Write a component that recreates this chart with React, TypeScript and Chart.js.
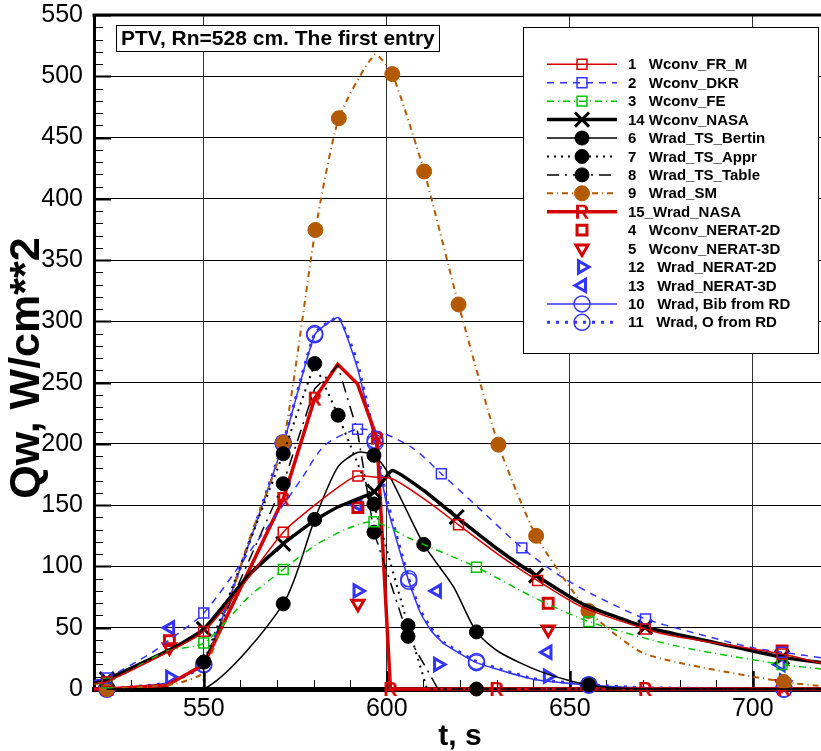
import React, { useEffect, useRef } from 'react';
import { Chart, registerables } from 'chart.js';
import { drawPoint } from 'chart.js/helpers';

Chart.register(...registerables);

const FONT = '"Liberation Sans", Arial, Helvetica, sans-serif';

// ---------- axes ----------
const X_MIN = 520;
const X_MAX = 720;
const Y_MIN = 0;
const Y_MAX = 550;
const X_TICKS = [550, 600, 650, 700];
const Y_TICKS = [0, 50, 100, 150, 200, 250, 300, 350, 400, 450, 500, 550];
const X_TITLE = 't, s';
const Y_TITLE = 'Qw, W/cm**2';
const PLOT_TITLE = 'PTV, Rn=528 cm. The first entry';

// ---------- data (t, s ; Qw, W/cm^2 ; indices of plotted symbols) ----------
const T_FRM = [520, 523.5, 540, 550, 562, 571.7, 580.3, 589.3, 592.1, 596.4, 601.5, 610.1, 619.6, 630.8, 641.2, 653.4, 670.6, 678.7, 708, 720];
const Q_FRM = [4, 6, 30, 47, 90, 128, 150, 170, 173.8, 173, 171.6, 155.3, 134, 109, 88.5, 66.8, 49, 43, 28.6, 20];
const M_FRM = [1, 3, 5, 8, 12, 14, 16, 18];

const T_DKR = [520, 523.5, 536, 541, 550, 562, 571.7, 576.7, 583, 592, 599.3, 607.4, 614.9, 625, 636.9, 647, 657, 670.7, 685, 699.4, 708, 720];
const Q_DKR = [7, 9, 30, 41, 62, 110, 150, 171.6, 198.8, 212, 208.4, 196, 175.7, 148, 115.2, 93, 76, 57.2, 45, 34, 30, 25];
const M_DKR = [1, 4, 9, 12, 14, 17, 20];

const T_FE = [520, 523.5, 540, 550, 562.2, 571.7, 580.3, 589.3, 596.5, 606.5, 624.5, 640, 655.2, 678.7, 708, 720];
const Q_FE = [4, 5, 31, 37.5, 75, 97.5, 117, 131, 136.5, 122.6, 99.4, 75, 55, 35.4, 20, 16];
const M_FE = [1, 3, 5, 8, 10, 12, 14];

const T_CNASA = [520, 523.5, 541.2, 550, 562.2, 571.7, 580.3, 586.6, 596.6, 601.5, 610.1, 619.1, 630.8, 640.8, 653.4, 670.6, 678.7, 708, 720];
const Q_CNASA = [6, 8, 32.7, 49, 92.6, 118.5, 137.6, 148.5, 161, 178.4, 162, 140.3, 113, 92.6, 69.5, 50.4, 45, 26, 21];
const M_CNASA = [1, 3, 5, 8, 11, 13, 15, 17];

const T_BERTIN = [523.5, 550, 571.7, 580.3, 586.6, 592, 596.5, 600.2, 610.1, 618.2, 624.5, 630.8, 642.6, 655.2, 670, 720];
const Q_BERTIN = [0, 0, 69.5, 138.4, 181, 193, 190.7, 177, 118, 83.5, 46.6, 30, 13.6, 3.3, 0, 0];
const M_BERTIN = [2, 3, 6, 8, 10, 13];

const T_APPR = [523.5, 550, 550, 571.7, 580.3, 586.7, 596.5, 605.8, 611, 720];
const Q_APPR = [0, 0, 22, 192, 265.6, 223.4, 151, 51.7, 0, 0];
const M_APPR = [2, 3, 4, 5, 6, 7];

const T_TABLE = [523.5, 550, 550, 571.7, 580.3, 586.6, 592, 596.5, 605.8, 614, 624.5, 720];
const Q_TABLE = [0, 0, 22, 167.5, 245, 264, 210, 128, 43, 0, 0, 0];
const M_TABLE = [2, 3, 7, 8, 10];

const T_SM = [523.5, 541.7, 550, 562.2, 571.7, 580.5, 586.9, 596.7, 601.5, 610.2, 619.6, 630.5, 640.8, 655.1, 670.6, 708.5, 720];
const Q_SM = [0, 4, 14, 120, 201, 374.6, 465.8, 517.6, 501.8, 422.3, 313.8, 199.4, 125, 63.7, 28.6, 5.7, 2];
const M_SM = [0, 4, 5, 6, 8, 9, 10, 11, 12, 13, 15];

const T_RNASA = [520, 523.5, 540, 550, 571.7, 580.3, 586.6, 592, 597.3, 601, 630, 670.6, 708.5, 720];
const Q_RNASA = [0, 0, 3, 20, 155, 237, 265, 249, 205, 0, 0, 0, 0, 0];
const M_RNASA = [1, 4, 5, 8, 9, 10, 11, 12];

const T_CN2D = [540.6, 592.1, 644.1, 708];
const Q_CN2D = [39.5, 148, 70, 31];

const T_CN3D = [540.6, 592.1, 644.1, 708];
const Q_CN3D = [34, 69.5, 48.5, 4];

const T_RN2D = [540.8, 592, 614, 644, 708.5];
const Q_RN2D = [9.5, 80, 20, 10.5, 6.5];

const T_RN3D = [540.8, 592, 613.7, 643.9, 707.6];
const Q_RN3D = [50, 150.5, 80, 30, 20];

const T_BIB = [520, 523.5, 540, 550, 571.7, 580.3, 586.8, 592, 596.8, 600, 606, 609.2, 612, 615.6, 624.5, 640, 655.2, 670, 708.5, 720];
const Q_BIB = [0, 0, 5, 20, 200, 289, 303, 261.5, 201, 150, 88, 62, 48, 37, 21.5, 8, 3.3, 1, 0, 0];
const M_BIB = [1, 3, 4, 5, 8, 10, 14, 16, 18];

const T_ORD = [520, 523.5, 540, 550, 571.7, 580.3, 586.8, 592, 596.8, 600, 606, 609.2, 612, 615.6, 624.5, 640, 655.2, 670, 708.5, 720];
const Q_ORD = [0, 0, 5, 20, 201, 290, 303, 266, 203, 155, 90, 64, 50, 38, 22.5, 8.5, 3.5, 1, 0, 0];
const M_ORD = [1, 3, 4, 5, 8, 10, 14, 16, 18];

const LABELS = [
  '1   Wconv_FR_M',
  '2   Wconv_DKR',
  '3   Wconv_FE',
  '14 Wconv_NASA',
  '6   Wrad_TS_Bertin',
  '7   Wrad_TS_Appr',
  '8   Wrad_TS_Table',
  '9   Wrad_SM',
  '15_Wrad_NASA',
  '4   Wconv_NERAT-2D',
  '5   Wconv_NERAT-3D',
  '12   Wrad_NERAT-2D',
  '13   Wrad_NERAT-3D',
  '10   Wrad, Bib from RD',
  '11   Wrad, O from RD',
];

// ---------- colours ----------
const RED = '#d40000';
const BLUE = '#3434ff';
const GREEN = '#00c400';
const BROWN = '#b35900';
const BLACK = '#000000';
const NONE = 'rgba(0,0,0,0)';

function makeRGlyph(): HTMLCanvasElement {
  const c = document.createElement('canvas');
  c.width = 16;
  c.height = 20;
  const g = c.getContext('2d')!;
  g.fillStyle = RED;
  g.font = 'bold 20px ' + FONT;
  g.textAlign = 'center';
  g.textBaseline = 'middle';
  g.fillText('R', 8, 11);
  return c;
}

type Series = {
  label: string;
  t: number[];
  q: number[];
  m: number[] | null; // null -> every point
  color: string;
  width: number;
  dash: number[];
  line: boolean;
  pstyle: any;
  r: number;
  pw: number;
  fill: string;
  rot: number;
  tension: number;
};

function buildSeries(): Series[] {
  const R = makeRGlyph();
  return [
    { label: LABELS[0], t: T_FRM, q: Q_FRM, m: M_FRM, color: RED, width: 1.5, dash: [], line: true, pstyle: 'rect', r: 7, pw: 1.5, fill: NONE, rot: 0, tension: 0.25 },
    { label: LABELS[1], t: T_DKR, q: Q_DKR, m: M_DKR, color: BLUE, width: 1.5, dash: [7, 6], line: true, pstyle: 'rect', r: 7, pw: 1.5, fill: NONE, rot: 0, tension: 0.25 },
    { label: LABELS[2], t: T_FE, q: Q_FE, m: M_FE, color: GREEN, width: 1.5, dash: [7, 4, 1, 4], line: true, pstyle: 'rect', r: 7, pw: 1.5, fill: NONE, rot: 0, tension: 0.25 },
    { label: LABELS[3], t: T_CNASA, q: Q_CNASA, m: M_CNASA, color: BLACK, width: 3.5, dash: [], line: true, pstyle: 'crossRot', r: 10, pw: 3, fill: NONE, rot: 0, tension: 0.15 },
    { label: LABELS[4], t: T_BERTIN, q: Q_BERTIN, m: M_BERTIN, color: BLACK, width: 1.5, dash: [], line: true, pstyle: 'circle', r: 7, pw: 1, fill: BLACK, rot: 0, tension: 0.25 },
    { label: LABELS[5], t: T_APPR, q: Q_APPR, m: M_APPR, color: BLACK, width: 2, dash: [2, 5], line: true, pstyle: 'circle', r: 7, pw: 1, fill: BLACK, rot: 0, tension: 0 },
    { label: LABELS[6], t: T_TABLE, q: Q_TABLE, m: M_TABLE, color: BLACK, width: 1.5, dash: [12, 6, 2, 6], line: true, pstyle: 'circle', r: 7, pw: 1, fill: BLACK, rot: 0, tension: 0 },
    { label: LABELS[7], t: T_SM, q: Q_SM, m: M_SM, color: BROWN, width: 2, dash: [6, 4, 1, 4], line: true, pstyle: 'circle', r: 7.5, pw: 1, fill: BROWN, rot: 0, tension: 0.2 },
    { label: LABELS[8], t: T_RNASA, q: Q_RNASA, m: M_RNASA, color: RED, width: 3.5, dash: [], line: true, pstyle: R, r: 8, pw: 1, fill: RED, rot: 0, tension: 0 },
    { label: LABELS[9], t: T_CN2D, q: Q_CN2D, m: null, color: RED, width: 0, dash: [], line: false, pstyle: 'rect', r: 7, pw: 3, fill: NONE, rot: 0, tension: 0 },
    { label: LABELS[10], t: T_CN3D, q: Q_CN3D, m: null, color: RED, width: 0, dash: [], line: false, pstyle: 'triangle', r: 7, pw: 3, fill: NONE, rot: 180, tension: 0 },
    { label: LABELS[11], t: T_RN2D, q: Q_RN2D, m: null, color: BLUE, width: 0, dash: [], line: false, pstyle: 'triangle', r: 7, pw: 3, fill: NONE, rot: 90, tension: 0 },
    { label: LABELS[12], t: T_RN3D, q: Q_RN3D, m: null, color: BLUE, width: 0, dash: [], line: false, pstyle: 'triangle', r: 7, pw: 3, fill: NONE, rot: 270, tension: 0 },
    { label: LABELS[13], t: T_BIB, q: Q_BIB, m: M_BIB, color: BLUE, width: 1.5, dash: [], line: true, pstyle: 'circle', r: 8, pw: 1.5, fill: NONE, rot: 0, tension: 0.15 },
    { label: LABELS[14], t: T_ORD, q: Q_ORD, m: M_ORD, color: BLUE, width: 3, dash: [3, 6], line: true, pstyle: 'circle', r: 8, pw: 1.5, fill: NONE, rot: 0, tension: 0.15 },
  ];
}

export default function App() {
  const ref = useRef<HTMLCanvasElement | null>(null);

  useEffect(() => {
    const canvas = ref.current;
    if (!canvas) return;
    const series = buildSeries();

    const datasets = series.map((s) => ({
      label: s.label,
      data: s.t.map((x, i) => ({ x, y: s.q[i] })),
      showLine: s.line,
      clip: false,
      borderColor: s.color,
      borderWidth: s.width,
      borderDash: s.dash,
      backgroundColor: s.fill,
      tension: s.tension,
      pointStyle: s.pstyle,
      pointRadius: (ctx: any) => (s.m === null || s.m.includes(ctx.dataIndex) ? s.r : 0),
      pointHoverRadius: 0,
      pointBorderWidth: s.pw,
      pointBorderColor: s.color,
      pointBackgroundColor: s.fill,
      pointRotation: s.rot,
    }));

    const decor = {
      id: 'decor',
      beforeDatasetsDraw(chart: any) {
        const ctx = chart.ctx;
        const a = chart.chartArea;
        const xs = chart.scales.x;
        const ys = chart.scales.y;
        ctx.save();
        ctx.strokeStyle = BLACK;
        // y ticks (inward)
        for (let v = Y_MIN; v <= Y_MAX; v += 10) {
          const major = v % 50 === 0;
          const y = Math.round(ys.getPixelForValue(v)) + 0.5;
          ctx.lineWidth = major ? 2 : 1;
          ctx.beginPath();
          ctx.moveTo(a.left, y);
          ctx.lineTo(a.left + (major ? 17 : 9), y);
          ctx.stroke();
        }
        // x ticks (inward)
        for (let v = X_MIN; v <= X_MAX; v += 10) {
          const major = v % 50 === 0;
          const x = Math.round(xs.getPixelForValue(v)) + 0.5;
          ctx.lineWidth = major ? 2.5 : 1;
          ctx.beginPath();
          ctx.moveTo(x, a.bottom);
          ctx.lineTo(x, a.bottom - (major ? 18 : 9));
          ctx.stroke();
        }
        // top frame
        ctx.lineWidth = 3;
        ctx.beginPath();
        ctx.moveTo(a.left - 1.5, a.top);
        ctx.lineTo(a.right, a.top);
        ctx.stroke();
        ctx.restore();
      },
      afterDraw(chart: any) {
        const ctx = chart.ctx;
        const a = chart.chartArea;
        ctx.save();
        // axis titles
        ctx.fillStyle = BLACK;
        ctx.font = 'bold 30px ' + FONT;
        ctx.textAlign = 'center';
        ctx.textBaseline = 'alphabetic';
        ctx.fillText(X_TITLE, (a.left + a.right) / 2, 745);
        ctx.save();
        ctx.translate(39, 368);
        ctx.rotate(-Math.PI / 2);
        ctx.font = 'bold 43px ' + FONT;
        ctx.fillText(Y_TITLE, 0, 0);
        ctx.restore();

        // title box
        ctx.fillStyle = '#ffffff';
        ctx.fillRect(116, 25, 323, 26);
        ctx.strokeStyle = BLACK;
        ctx.lineWidth = 1;
        ctx.strokeRect(116.5, 25.5, 323, 26);
        ctx.fillStyle = BLACK;
        ctx.font = 'bold 21px ' + FONT;
        ctx.textAlign = 'left';
        ctx.fillText(PLOT_TITLE, 121, 45);

        // legend box
        ctx.fillStyle = '#ffffff';
        ctx.fillRect(523, 27, 295, 326);
        ctx.strokeRect(523.5, 27.5, 295, 326);
        series.forEach((s, i) => {
          const y = 64.3 + i * 18.43;
          if (s.line) {
            ctx.save();
            ctx.strokeStyle = s.color;
            ctx.lineWidth = s.width;
            ctx.setLineDash(s.dash);
            ctx.beginPath();
            ctx.moveTo(547, y);
            ctx.lineTo(617, y);
            ctx.stroke();
            ctx.restore();
          }
          ctx.save();
          ctx.setLineDash([]);
          ctx.strokeStyle = s.color;
          ctx.fillStyle = s.fill;
          ctx.lineWidth = s.pw;
          drawPoint(ctx, { pointStyle: s.pstyle, radius: s.r, rotation: s.rot, borderWidth: s.pw } as any, 582, y);
          ctx.restore();
          ctx.fillStyle = BLACK;
          ctx.font = 'bold 15px ' + FONT;
          ctx.textAlign = 'left';
          ctx.textBaseline = 'middle';
          ctx.fillText(s.label, 628, y + 1);
        });
        ctx.restore();
      },
    };

    const chart = new Chart(canvas, {
      type: 'scatter',
      data: { datasets: datasets as any },
      options: {
        animation: false,
        responsive: false,
        devicePixelRatio: 1,
        events: [],
        layout: { padding: { top: 15, right: 3, left: 0, bottom: 0 } },
        plugins: {
          legend: { display: false },
          tooltip: { enabled: false },
          title: { display: false },
        },
        scales: {
          x: {
            type: 'linear',
            min: X_MIN,
            max: X_MAX,
            afterBuildTicks: (s: any) => {
              s.ticks = X_TICKS.map((v) => ({ value: v }));
            },
            afterFit: (s: any) => {
              s.height = 62;
              s.paddingLeft = 0;
              s.paddingRight = 0;
            },
            grid: { color: '#333333', lineWidth: 1, drawTicks: false },
            border: { color: BLACK, width: 5 },
            ticks: {
              color: BLACK,
              font: { family: FONT, size: 25 },
              padding: 5,
              maxRotation: 0,
              autoSkip: false,
            },
          },
          y: {
            type: 'linear',
            min: Y_MIN,
            max: Y_MAX,
            afterBuildTicks: (s: any) => {
              s.ticks = Y_TICKS.map((v) => ({ value: v }));
            },
            afterFit: (s: any) => {
              s.width = 94;
              s.paddingTop = 0;
              s.paddingBottom = 0;
            },
            grid: { color: BLACK, lineWidth: 1, drawTicks: false },
            border: { color: BLACK, width: 3 },
            ticks: {
              color: BLACK,
              font: { family: FONT, size: 25 },
              padding: 11,
              autoSkip: false,
            },
          },
        },
      },
      plugins: [decor],
    });

    return () => chart.destroy();
  }, []);

  return (
    <div
      style={{
        position: 'fixed',
        left: 0,
        top: 0,
        width: 821,
        height: 751,
        overflow: 'hidden',
        background: '#ffffff',
      }}
    >
      <canvas ref={ref} width={836} height={751} style={{ display: 'block', width: 836, height: 751 }} />
    </div>
  );
}
